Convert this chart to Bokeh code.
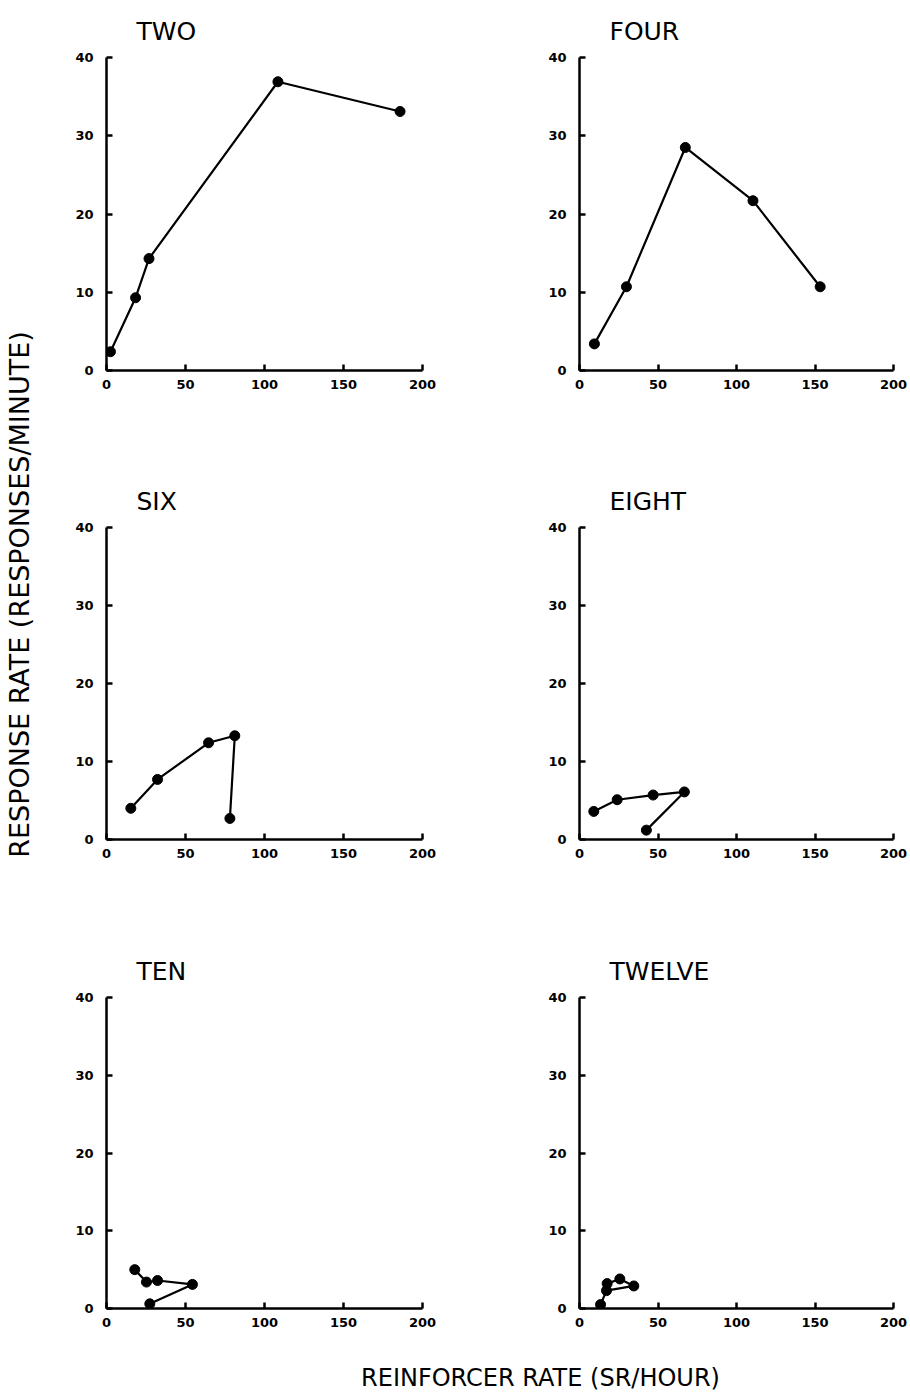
from bokeh.plotting import figure
from bokeh.layouts import row, column
from bokeh.models import Range1d, FixedTicker
from bokeh.embed import file_html
from bokeh.resources import INLINE
from bokeh.core.properties import value
import math

# ---- data ----
titles = ["TWO", "FOUR", "SIX", "EIGHT", "TEN", "TWELVE"]
two_x = [2.5, 18.4, 26.9, 108.5, 185.8]
two_y = [2.4, 9.3, 14.3, 36.9, 33.1]
four_x = [9.5, 29.9, 67.4, 110.5, 153.3]
four_y = [3.4, 10.7, 28.5, 21.7, 10.7]
six_x = [15.4, 32.3, 64.6, 81.2, 78.1]
six_y = [4.0, 7.7, 12.4, 13.3, 2.7]
eight_x = [9.1, 24.0, 46.9, 66.8, 42.6]
eight_y = [3.6, 5.1, 5.7, 6.1, 1.2]
ten_x = [17.9, 25.3, 32.3, 54.4, 27.4]
ten_y = [5.0, 3.4, 3.6, 3.1, 0.6]
twelve_x = [17.6, 25.7, 34.6, 17.2, 13.4]
twelve_y = [3.2, 3.8, 2.9, 2.3, 0.5]
x_ticks = [0, 50, 100, 150, 200]
y_ticks = [0, 10, 20, 30, 40]
x_label = "REINFORCER RATE (SR/HOUR)"
y_label = "RESPONSE RATE (RESPONSES/MINUTE)"

series = [(two_x, two_y), (four_x, four_y), (six_x, six_y),
          (eight_x, eight_y), (ten_x, ten_y), (twelve_x, twelve_y)]

LEFT_W, RIGHT_W = 407, 458
row_specs = [(430, 57, 60), (469, 97, 60), (439, 98, 30)]  # height, border_top, border_bottom


def make_panel(i):
    col = i % 2
    h, bt, bb = row_specs[i // 2]
    w = LEFT_W if col == 0 else RIGHT_W
    bl = 61 if col == 0 else 127
    br = 30 if col == 0 else 17
    p = figure(width=w, height=h, output_backend="svg", toolbar_location=None,
               x_range=Range1d(0, 200), y_range=Range1d(0, 40),
               min_border_left=bl, min_border_right=br,
               min_border_top=bt, min_border_bottom=bb,
               title=titles[i])
    p.outline_line_color = None
    p.xgrid.visible = False
    p.ygrid.visible = False
    p.title.align = "left"
    p.title.offset = 30
    p.title.standoff = 24
    p.title.text_font = "DejaVu Sans"
    p.title.text_font_style = "normal"
    p.title.text_font_size = "25px"
    p.title.text_color = "black"
    for ax, ticks, sto in ((p.xaxis, x_ticks, 9), (p.yaxis, y_ticks, 13)):
        ax.ticker = FixedTicker(ticks=ticks)
        ax.axis_line_width = 2.5
        ax.axis_line_color = "black"
        ax.major_tick_line_width = 2.5
        ax.major_tick_line_color = "black"
        ax.major_tick_in = 6
        ax.major_tick_out = 0
        ax.minor_tick_line_color = None
        ax.major_label_text_font = "DejaVu Sans"
        ax.major_label_text_font_style = "bold"
        ax.major_label_text_font_size = "13px"
        ax.major_label_text_color = "black"
        ax.major_label_standoff = sto
    xs, ys = series[i]
    p.line(xs, ys, line_color="black", line_width=2.2)
    p.scatter(xs, ys, size=10, fill_color="black", line_color="black")
    return p


panels = [make_panel(i) for i in range(6)]

# y-axis title figure
yl = figure(width=45, height=1393, output_backend="svg", toolbar_location=None,
            x_range=Range1d(0, 1), y_range=Range1d(0, 1),
            min_border=0, outline_line_color=None)
yl.axis.visible = False
yl.grid.visible = False
yl.text(x=[0.42], y=[1 - 594 / 1393], text=[y_label], angle=math.pi / 2,
        text_align="center", text_baseline="middle",
        text_font=value("DejaVu Sans"), text_font_size="27px", text_color="black")

# x-axis title figure
xl = figure(width=865, height=55, output_backend="svg", toolbar_location=None,
            x_range=Range1d(0, 1), y_range=Range1d(0, 1),
            min_border=0, outline_line_color=None)
xl.axis.visible = False
xl.grid.visible = False
xl.text(x=[(540 - 45) / 865], y=[1 - (1377 - 1338) / 55], text=[x_label],
        text_align="center", text_baseline="middle",
        text_font=value("DejaVu Sans"), text_font_size="24px", text_color="black")

grid = column(row(panels[0], panels[1]), row(panels[2], panels[3]),
              row(panels[4], panels[5]), xl)
layout = row(yl, grid)

open("out.html", "w").write(file_html(layout, INLINE))
